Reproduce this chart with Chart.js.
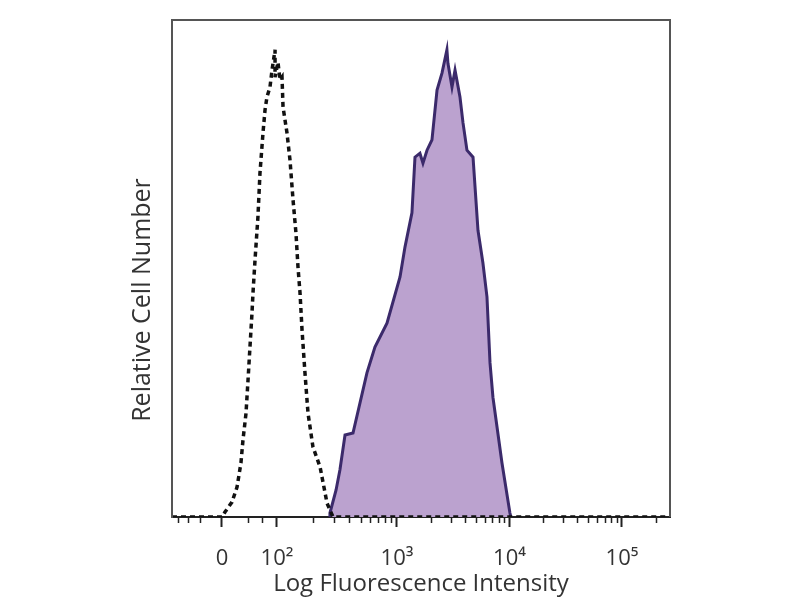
<!DOCTYPE html>
<html><head><meta charset="utf-8">
<script src="https://cdn.jsdelivr.net/npm/chart.js@4/dist/chart.umd.min.js"></script>
<style>html,body{margin:0;padding:0;background:#fff}#wrap{width:800px;height:600px}</style>
</head><body><div id="wrap"><canvas id="c" width="800" height="600"></canvas></div>
<script>
// x in display units (decades: 3 = 10^3), y in relative cell number (0-100)
const isoX = [1.0, 1.444, 1.471, 1.533, 1.578, 1.613, 1.631, 1.658, 1.676, 1.693, 1.711, 1.72, 1.738, 1.764, 1.782, 1.809, 1.827, 1.844, 1.871, 1.889, 1.916, 1.916, 1.942, 1.96, 1.978, 1.987, 2.022, 2.049, 2.076, 2.102, 2.12, 2.138, 2.156, 2.182, 2.209, 2.253, 2.316, 2.378, 2.431, 5.427];
const isoY = [0, 0, 1.0, 3.0, 6.0, 10.9, 15.5, 20.9, 27.6, 34.2, 41.0, 45.1, 51.7, 60.4, 69.2, 77.3, 81.9, 84.5, 86.5, 89.9, 94.0, 88.5, 91.5, 87.9, 88.5, 82.5, 77.3, 71.8, 63.8, 57.1, 50.3, 45.1, 37.6, 29.0, 20.9, 14.1, 10.1, 2.8, 0, 0];
const stainX = [2.404, 2.404, 2.458, 2.493, 2.538, 2.609, 2.733, 2.804, 2.911, 3.027, 3.071, 3.133, 3.16, 3.204, 3.231, 3.267, 3.311, 3.356, 3.4, 3.444, 3.453, 3.489, 3.516, 3.56, 3.587, 3.622, 3.676, 3.72, 3.764, 3.8, 3.827, 3.853, 3.933, 4.004, 4.013];
const stainY = [0, 0.8, 5.4, 9.5, 16.5, 16.9, 29.0, 34.2, 39.0, 48.3, 54.3, 61.2, 72.4, 73.2, 71.2, 73.8, 75.9, 85.9, 89.3, 94.0, 91.3, 86.5, 89.9, 84.5, 79.3, 73.8, 72.4, 57.7, 51.1, 44.3, 31.0, 24.1, 10.9, 0.8, 0];
const tickValues = [1.444, 1.933, 3, 4, 5];
const tickLabels = ['0', '10²', '10³', '10⁴', '10⁵'];
const minorTickValues = [1.053, 1.142, 1.249, 1.676, 1.80, 2.254, 2.442, 2.575, 2.679, 2.763, 2.835, 2.896, 2.951, 3.301, 3.477, 3.602, 3.699, 3.778, 3.845, 3.903, 3.954, 4.301, 4.477, 4.602, 4.699, 4.778, 4.845, 4.903, 4.954, 5.301];
const xTitle = 'Log Fluorescence Intensity';
const yTitle = 'Relative Cell Number';

const FONT = '"Open Sans", "Noto Sans", sans-serif';

const extras = {
  id: 'extras',
  afterDraw(chart) {
    const ctx = chart.ctx, a = chart.chartArea, xs = chart.scales.x;
    ctx.save();
    ctx.strokeStyle = '#555';
    ctx.lineWidth = 2;
    ctx.beginPath();
    ctx.moveTo(a.left, a.bottom);
    ctx.lineTo(a.left, a.top);
    ctx.lineTo(a.right, a.top);
    ctx.lineTo(a.right, a.bottom);
    ctx.stroke();
    ctx.strokeStyle = '#222';
    ctx.lineWidth = 1.5;
    ctx.beginPath();
    minorTickValues.forEach(v => {
      const px = Math.round(xs.getPixelForValue(v)) + 0.5;
      ctx.moveTo(px, a.bottom);
      ctx.lineTo(px, a.bottom + 6);
    });
    ctx.stroke();
    ctx.translate(143, 300);
    ctx.rotate(-Math.PI / 2);
    ctx.fillStyle = '#333';
    ctx.font = '25px ' + FONT;
    ctx.textAlign = 'center';
    ctx.textBaseline = 'middle';
    ctx.fillText(yTitle, 0, 0);
    ctx.restore();
  }
};

new Chart(document.getElementById('c'), {
  type: 'line',
  data: {
    datasets: [
      {
        label: 'Isotype',
        data: isoX.map((x, i) => ({x: x, y: isoY[i]})),
        borderColor: '#111',
        borderWidth: 3.5,
        borderDash: [5, 4],
        pointRadius: 0,
        fill: false,
        tension: 0
      },
      {
        label: 'Stained',
        data: stainX.map((x, i) => ({x: x, y: stainY[i]})),
        borderColor: '#3b2a6b',
        borderWidth: 3,
        backgroundColor: 'rgb(187,162,207)',
        pointRadius: 0,
        fill: 'origin',
        tension: 0
      }
    ]
  },
  options: {
    responsive: false,
    animation: false,
    layout: {padding: {left: 0, top: 20, right: 130, bottom: 0}},
    plugins: {legend: {display: false}, tooltip: {enabled: false}},
    scales: {
      x: {
        type: 'linear',
        min: 1.0,
        max: 5.427,
        afterBuildTicks: s => { s.ticks = tickValues.map(v => ({value: v})); },
        afterFit: s => { s.height = 83; },
        ticks: {
          autoSkip: false, maxRotation: 0, padding: 19, color: '#333',
          font: {family: FONT, size: 22},
          callback: (v, i) => tickLabels[i]
        },
        grid: {drawOnChartArea: false, drawTicks: true, tickLength: 10, tickWidth: 2, tickColor: '#222'},
        border: {display: true, color: '#222', width: 2},
        title: {display: true, text: xTitle, color: '#333', font: {family: FONT, size: 24}, padding: {top: 0, bottom: 1}}
      },
      y: {
        min: 0,
        max: 100,
        afterFit: s => { s.width = 172; },
        ticks: {display: false},
        grid: {display: false, drawTicks: false},
        border: {display: true, color: '#555', width: 2}
      }
    }
  },
  plugins: [extras]
});
</script>
</body></html>
